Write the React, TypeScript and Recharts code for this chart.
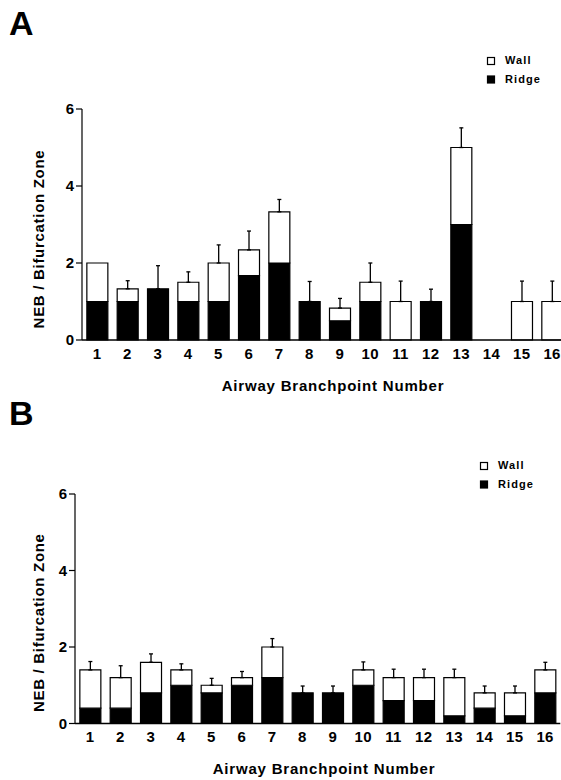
import { BarChart, Bar, XAxis, YAxis, ErrorBar, Legend, Label } from 'recharts';

const FONT = "'Liberation Sans', Arial, Helvetica, sans-serif";

const branchpoints = ['1', '2', '3', '4', '5', '6', '7', '8', '9', '10', '11', '12', '13', '14', '15', '16'];
const yTicks = [0, 2, 4, 6];

// panel A
const ridgeA = [1, 1, 1.33, 1, 1, 1.67, 2, 1, 0.5, 1, 0, 1, 3, 0, 0, 0];
const wallA = [1, 0.33, 0, 0.5, 1, 0.67, 1.33, 0, 0.33, 0.5, 1, 0, 2, 0, 1, 1];
const semA = [0, 0.21, 0.6, 0.27, 0.47, 0.49, 0.32, 0.52, 0.25, 0.5, 0.53, 0.32, 0.51, 0, 0.53, 0.53];

// panel B
const ridgeB = [0.4, 0.4, 0.8, 1, 0.8, 1, 1.2, 0.8, 0.8, 1, 0.6, 0.6, 0.2, 0.4, 0.2, 0.8];
const wallB = [1, 0.8, 0.8, 0.4, 0.2, 0.2, 0.8, 0, 0, 0.4, 0.6, 0.6, 1, 0.4, 0.6, 0.6];
const semB = [0.22, 0.31, 0.22, 0.16, 0.18, 0.16, 0.22, 0.18, 0.18, 0.21, 0.22, 0.22, 0.22, 0.18, 0.18, 0.2];

type Err = [number, number] | undefined;

type Row = {
  bp: string;
  ridge: number;
  wall: number;
  errWall: Err;
  errRidge: Err;
};

// error bar only goes up from the top of the stack; a zero-height wall segment
// is not drawn, so in that case the ridge segment carries it
function buildRows(ridge: number[], wall: number[], sem: number[]): Row[] {
  return branchpoints.map((bp, i) => {
    const e: Err = sem[i] > 0 ? [0, sem[i]] : undefined;
    return {
      bp,
      ridge: ridge[i],
      wall: wall[i],
      errWall: wall[i] > 0 ? e : undefined,
      errRidge: wall[i] > 0 ? undefined : e,
    };
  });
}

interface PanelProps {
  letter: string;
  top: number;
  rows: Row[];
  margin: { top: number; right: number; bottom: number; left: number };
  yLabel: { x: number; y: number };
  xLabel: { x: number; y: number };
  legend: { left: number; top: number };
}

const boldText = { fontFamily: FONT, fontWeight: 700, fill: '#000' };

function renderLegend(props: any) {
  // Wall listed first, like the original figure
  const items = [...(props.payload ?? [])].reverse();
  return (
    <svg width={80} height={40} style={{ display: 'block' }}>
      {items.map((it: any, i: number) => (
        <g key={it.value}>
          <rect
            x={7.5}
            y={7.5 + i * 18.5}
            width={7}
            height={7}
            fill={it.payload?.fill ?? it.color}
            stroke="#000"
            strokeWidth={1.2}
          />
          <text x={25} y={14.2 + i * 18.5} fontSize={11} letterSpacing={1.1} {...boldText}>
            {it.value}
          </text>
        </g>
      ))}
    </svg>
  );
}

function Panel({ letter, top, rows, margin, yLabel, xLabel, legend }: PanelProps) {
  return (
    <div style={{ position: 'absolute', left: 0, top }}>
      <div
        style={{
          position: 'absolute',
          left: 9,
          top: 6,
          fontFamily: FONT,
          fontWeight: 700,
          fontSize: 34,
          lineHeight: '34px',
          color: '#000',
          zIndex: 2,
        }}
      >
        {letter}
      </div>
      <BarChart width={600} height={420} data={rows} margin={margin} barCategoryGap="16%">
        <XAxis
          dataKey="bp"
          interval={0}
          tickLine={false}
          axisLine={{ stroke: '#000', strokeWidth: 1.5 }}
          tick={{ ...boldText, fontSize: 15, letterSpacing: 0.4 }}
          height={30}
        >
          <Label
            content={() => (
              <text x={xLabel.x} y={xLabel.y} textAnchor="middle" fontSize={15} letterSpacing={0.8} {...boldText}>
                Airway Branchpoint Number
              </text>
            )}
          />
        </XAxis>
        <YAxis
          domain={[0, 6]}
          ticks={yTicks}
          width={30}
          tickSize={6}
          axisLine={{ stroke: '#000', strokeWidth: 1.2 }}
          tickLine={{ stroke: '#000', strokeWidth: 1.2 }}
          tick={{ ...boldText, fontSize: 15 }}
        >
          <Label
            content={() => (
              <text
                x={yLabel.x}
                y={yLabel.y}
                transform={`rotate(-90, ${yLabel.x}, ${yLabel.y})`}
                textAnchor="middle"
                fontSize={15}
                letterSpacing={0.7}
                {...boldText}
              >
                NEB / Bifurcation Zone
              </text>
            )}
          />
        </YAxis>
        <Legend
          layout="vertical"
          align="center"
          verticalAlign="middle"
          content={renderLegend}
          wrapperStyle={{ left: legend.left, top: legend.top, width: 80, height: 40 }}
        />
        <Bar dataKey="ridge" name="Ridge" stackId="s" fill="#000" stroke="#000" strokeWidth={1.2} isAnimationActive={false}>
          <ErrorBar dataKey="errRidge" direction="y" width={2} stroke="#000" strokeWidth={1.3} isAnimationActive={false} />
        </Bar>
        <Bar dataKey="wall" name="Wall" stackId="s" fill="#fff" stroke="#000" strokeWidth={1.2} isAnimationActive={false}>
          <ErrorBar dataKey="errWall" direction="y" width={2} stroke="#000" strokeWidth={1.3} isAnimationActive={false} />
        </Bar>
      </BarChart>
    </div>
  );
}

export default function App() {
  const rowsA = buildRows(ridgeA, wallA, semA);
  const rowsB = buildRows(ridgeB, wallB, semB);
  return (
    <div
      style={{
        position: 'absolute',
        left: 0,
        top: 0,
        width: 561,
        height: 780,
        overflow: 'hidden',
        background: '#fff',
      }}
    >
      <Panel
        letter="A"
        top={0}
        rows={rowsA}
        margin={{ top: 109, right: 32.7, bottom: 50, left: 52 }}
        yLabel={{ x: 44, y: 239 }}
        xLabel={{ x: 333, y: 391 }}
        legend={{ left: 480, top: 50 }}
      />
      <Panel
        letter="B"
        top={390}
        rows={rowsB}
        margin={{ top: 104, right: 39.7, bottom: 56.5, left: 45 }}
        yLabel={{ x: 44, y: 232.7 }}
        xLabel={{ x: 324, y: 384 }}
        legend={{ left: 473, top: 65 }}
      />
    </div>
  );
}
